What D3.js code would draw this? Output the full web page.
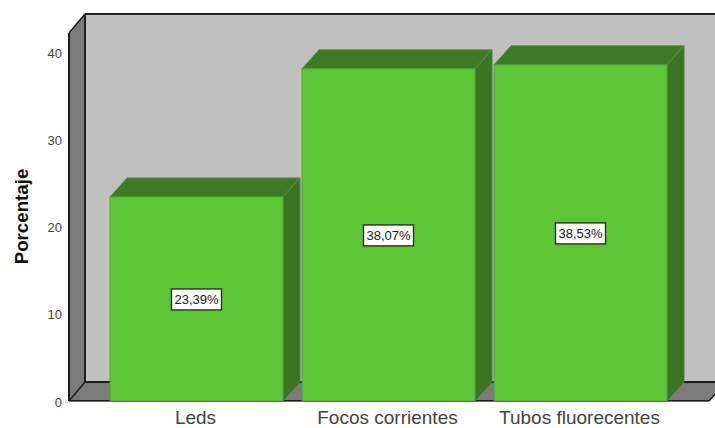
<!DOCTYPE html>
<html><head><meta charset="utf-8">
<script src="https://cdn.jsdelivr.net/npm/d3@7/dist/d3.min.js"></script>
<style>html,body{margin:0;padding:0;background:#fff}svg{display:block}text{font-family:"Liberation Sans",Arial,sans-serif}</style>
</head><body><svg id="c" width="715" height="428"></svg>
<script>
const categories = ["Leds","Focos corrientes","Tubos fluorecentes"];
const values = [23.39,38.07,38.53];
const valueLabels = ["23,39%","38,07%","38,53%"];
const yTicks = [0,10,20,30,40];
const yTitle = "Porcentaje";

const svg = d3.select("#c");
const y = d3.scaleLinear().domain([0,40]).range([401,52]);
const x = d3.scaleBand().domain(categories).range([100.5,676.5]).paddingInner(0.099).paddingOuter(0.0495);
const dx = 17, dy = 19;
const leftX = 69, rightX = 709, bottomY = y(0), topY = 33;
const poly = (pts,fill,stroke,w) => svg.append("polygon").attr("points",pts.map(p=>p.join(",")).join(" ")).attr("fill",fill).attr("stroke",stroke||"none").attr("stroke-width",w||0).attr("stroke-linejoin","round");

// walls
poly([[leftX+dx-1,topY-dy],[rightX+dx,topY-dy],[rightX+dx,bottomY-dy],[leftX+dx-1,bottomY-dy]],"#c0c0c0");
poly([[leftX,topY],[leftX+dx-1,topY-dy],[leftX+dx-1,bottomY-dy],[leftX,bottomY]],"#7a7a7a");
poly([[leftX,bottomY],[leftX+dx-1,bottomY-dy],[rightX+dx,bottomY-dy],[rightX,bottomY]],"#7a7a7a");
const seg = (a,b,w) => svg.append("line").attr("x1",a[0]).attr("y1",a[1]).attr("x2",b[0]).attr("y2",b[1]).attr("stroke","#1e1e1e").attr("stroke-width",w||2);
seg([leftX,topY],[leftX,bottomY]);
seg([leftX+dx-1,topY-dy],[leftX+dx-1,bottomY-dy]);
seg([leftX+dx-1,topY-dy],[rightX+dx,topY-dy]);
seg([leftX+dx-1,bottomY-dy],[rightX+dx,bottomY-dy]);
seg([leftX,topY],[leftX+dx-1,topY-dy],1.5);
seg([leftX,bottomY],[leftX+dx-1,bottomY-dy],1.5);
seg([leftX,bottomY],[rightX,bottomY]);
seg([rightX,bottomY],[rightX+dx,bottomY-dy],1.5);

// bars
categories.forEach((c,i)=>{
  const x0=x(c), x1=x0+x.bandwidth(), yt=y(values[i]);
  poly([[x1,yt],[x1+dx,yt-dy],[x1+dx,bottomY-dy],[x1,bottomY]],"#3a7523","#4a7f38",1);
  poly([[x0,yt],[x0+dx,yt-dy],[x1+dx,yt-dy],[x1,yt]],"#3d7a25","#5c8a4d",1);
  svg.append("rect").attr("x",x0).attr("y",yt).attr("width",x.bandwidth()).attr("height",bottomY-yt).attr("fill","#5ec438").attr("stroke","#54a03a").attr("stroke-width",1);
});
seg([leftX,bottomY+0.5],[rightX,bottomY+0.5],1).attr("stroke","#6a6a6a");

// value labels
categories.forEach((c,i)=>{
  const cx=x(c)+x.bandwidth()/2, cy=(y(values[i])+bottomY)/2+0.5;
  svg.append("rect").attr("x",cx-25).attr("y",cy-10.5).attr("width",50).attr("height",21).attr("fill","#fff").attr("stroke","#26331f").attr("stroke-width",1.4);
  svg.append("text").attr("x",cx).attr("y",cy+4.5).attr("text-anchor","middle").attr("font-size",13).attr("fill","#222").text(valueLabels[i]);
});

// y tick labels
svg.selectAll(".yt").data(yTicks).enter().append("text").attr("class","yt")
  .attr("x",62).attr("y",d=>y(d)+5.5).attr("text-anchor","end").attr("font-size",13).attr("fill","#444").text(d=>d);

// x labels
categories.forEach(c=>{
  svg.append("text").attr("x",x(c)+x.bandwidth()/2-1).attr("y",424).attr("text-anchor","middle").attr("font-size",19).attr("fill","#444").text(c);
});

svg.append("text").attr("transform","translate(27.5,216.5) rotate(-90)").attr("text-anchor","middle").attr("font-size",18.7).attr("font-weight","bold").attr("fill","#111").text(yTitle);
</script></body></html>
